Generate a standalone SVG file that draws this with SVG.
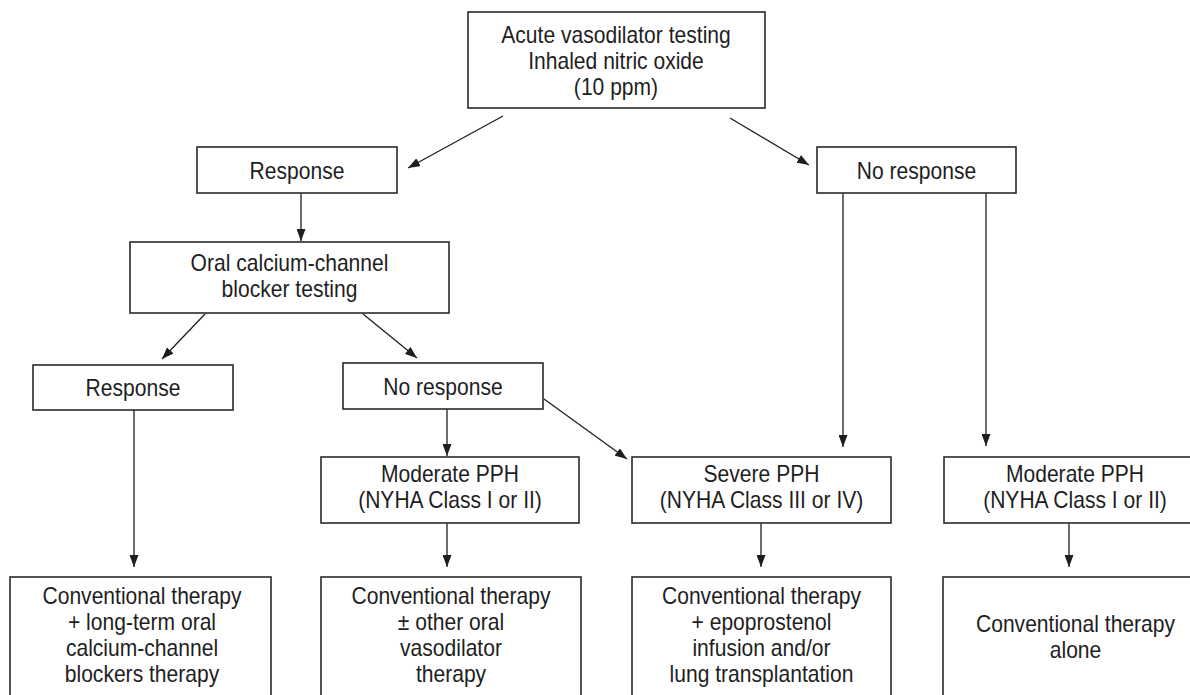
<svg xmlns="http://www.w3.org/2000/svg" width="1190" height="695" viewBox="0 0 1190 695">
<style>
.box{fill:#fff;stroke:#2a2a2a;stroke-width:1.6}
.t{font-family:"Liberation Sans",Arial,sans-serif;font-size:23px;fill:#1e1e1e;text-anchor:middle}
.c{stroke:#1e1e1e;stroke-width:1.3;fill:none;marker-end:url(#ah)}
</style>
<defs>
<marker id="ah" markerUnits="userSpaceOnUse" markerWidth="12" markerHeight="9" refX="12" refY="4.5" orient="auto">
<path d="M0,0 L12,4.5 L0,9 z" fill="#1e1e1e"/>
</marker>
</defs>
<rect width="1190" height="695" fill="#fff"/>
<g id="connectors">
<line class="c" x1="503" y1="116" x2="408" y2="168"/>
<line class="c" x1="730" y1="118" x2="809" y2="165"/>
<line class="c" x1="301" y1="193" x2="301" y2="241"/>
<line class="c" x1="205" y1="314" x2="162" y2="359"/>
<line class="c" x1="363" y1="314" x2="417" y2="358"/>
<line class="c" x1="134" y1="410" x2="134" y2="567"/>
<line class="c" x1="447" y1="409" x2="447" y2="456"/>
<line class="c" x1="544" y1="399" x2="627" y2="459"/>
<line class="c" x1="843" y1="193" x2="843" y2="447"/>
<line class="c" x1="986" y1="193" x2="986" y2="446"/>
<line class="c" x1="447" y1="523" x2="447" y2="567"/>
<line class="c" x1="761" y1="523" x2="761" y2="567"/>
<line class="c" x1="1069" y1="523" x2="1069" y2="567"/>
</g>
<g id="n-top">
<rect class="box" x="468" y="12" width="297" height="96"/>
<text class="t" transform="translate(616,43) scale(0.916,1)">Acute vasodilator testing</text>
<text class="t" transform="translate(616,69) scale(0.916,1)">Inhaled nitric oxide</text>
<text class="t" transform="translate(616,95) scale(0.916,1)">(10 ppm)</text>
</g>
<g id="n-response1">
<rect class="box" x="197" y="147" width="200" height="46"/>
<text class="t" transform="translate(297,178.5) scale(0.916,1)">Response</text>
</g>
<g id="n-noresponse1">
<rect class="box" x="817" y="147" width="199" height="46"/>
<text class="t" transform="translate(916.5,178.5) scale(0.916,1)">No response</text>
</g>
<g id="n-oral">
<rect class="box" x="130" y="242" width="319" height="71"/>
<text class="t" transform="translate(289.5,271) scale(0.916,1)">Oral calcium-channel</text>
<text class="t" transform="translate(289.5,297) scale(0.916,1)">blocker testing</text>
</g>
<g id="n-response2">
<rect class="box" x="33" y="365" width="200" height="45"/>
<text class="t" transform="translate(133,395.5) scale(0.916,1)">Response</text>
</g>
<g id="n-noresponse2">
<rect class="box" x="343" y="363" width="200" height="46"/>
<text class="t" transform="translate(443,394.5) scale(0.916,1)">No response</text>
</g>
<g id="n-moderate1">
<rect class="box" x="321" y="457" width="258" height="66"/>
<text class="t" transform="translate(450,482) scale(0.916,1)">Moderate PPH</text>
<text class="t" transform="translate(450,508) scale(0.916,1)">(NYHA Class I or II)</text>
</g>
<g id="n-severe">
<rect class="box" x="632" y="457" width="259" height="66"/>
<text class="t" transform="translate(761.5,482) scale(0.916,1)">Severe PPH</text>
<text class="t" transform="translate(761.5,508) scale(0.916,1)">(NYHA Class III or IV)</text>
</g>
<g id="n-moderate2">
<rect class="box" x="944" y="457" width="270" height="66"/>
<text class="t" transform="translate(1075,482) scale(0.916,1)">Moderate PPH</text>
<text class="t" transform="translate(1075,508) scale(0.916,1)">(NYHA Class I or II)</text>
</g>
<g id="n-bottom1">
<rect class="box" x="10" y="577" width="261" height="130"/>
<text class="t" transform="translate(142,604) scale(0.916,1)">Conventional therapy</text>
<text class="t" transform="translate(142,630) scale(0.916,1)">+ long-term oral</text>
<text class="t" transform="translate(142,656) scale(0.916,1)">calcium-channel</text>
<text class="t" transform="translate(142,682) scale(0.916,1)">blockers therapy</text>
</g>
<g id="n-bottom2">
<rect class="box" x="321" y="577" width="260" height="130"/>
<text class="t" transform="translate(451,604) scale(0.916,1)">Conventional therapy</text>
<text class="t" transform="translate(451,630) scale(0.916,1)">± other oral</text>
<text class="t" transform="translate(451,656) scale(0.916,1)">vasodilator</text>
<text class="t" transform="translate(451,682) scale(0.916,1)">therapy</text>
</g>
<g id="n-bottom3">
<rect class="box" x="632" y="577" width="259" height="130"/>
<text class="t" transform="translate(761.5,604) scale(0.916,1)">Conventional therapy</text>
<text class="t" transform="translate(761.5,630) scale(0.916,1)">+ epoprostenol</text>
<text class="t" transform="translate(761.5,656) scale(0.916,1)">infusion and/or</text>
<text class="t" transform="translate(761.5,682) scale(0.916,1)">lung transplantation</text>
</g>
<g id="n-bottom4">
<rect class="box" x="943" y="577" width="270" height="130"/>
<text class="t" transform="translate(1075.5,632) scale(0.916,1)">Conventional therapy</text>
<text class="t" transform="translate(1075.5,658) scale(0.916,1)">alone</text>
</g>
</svg>
